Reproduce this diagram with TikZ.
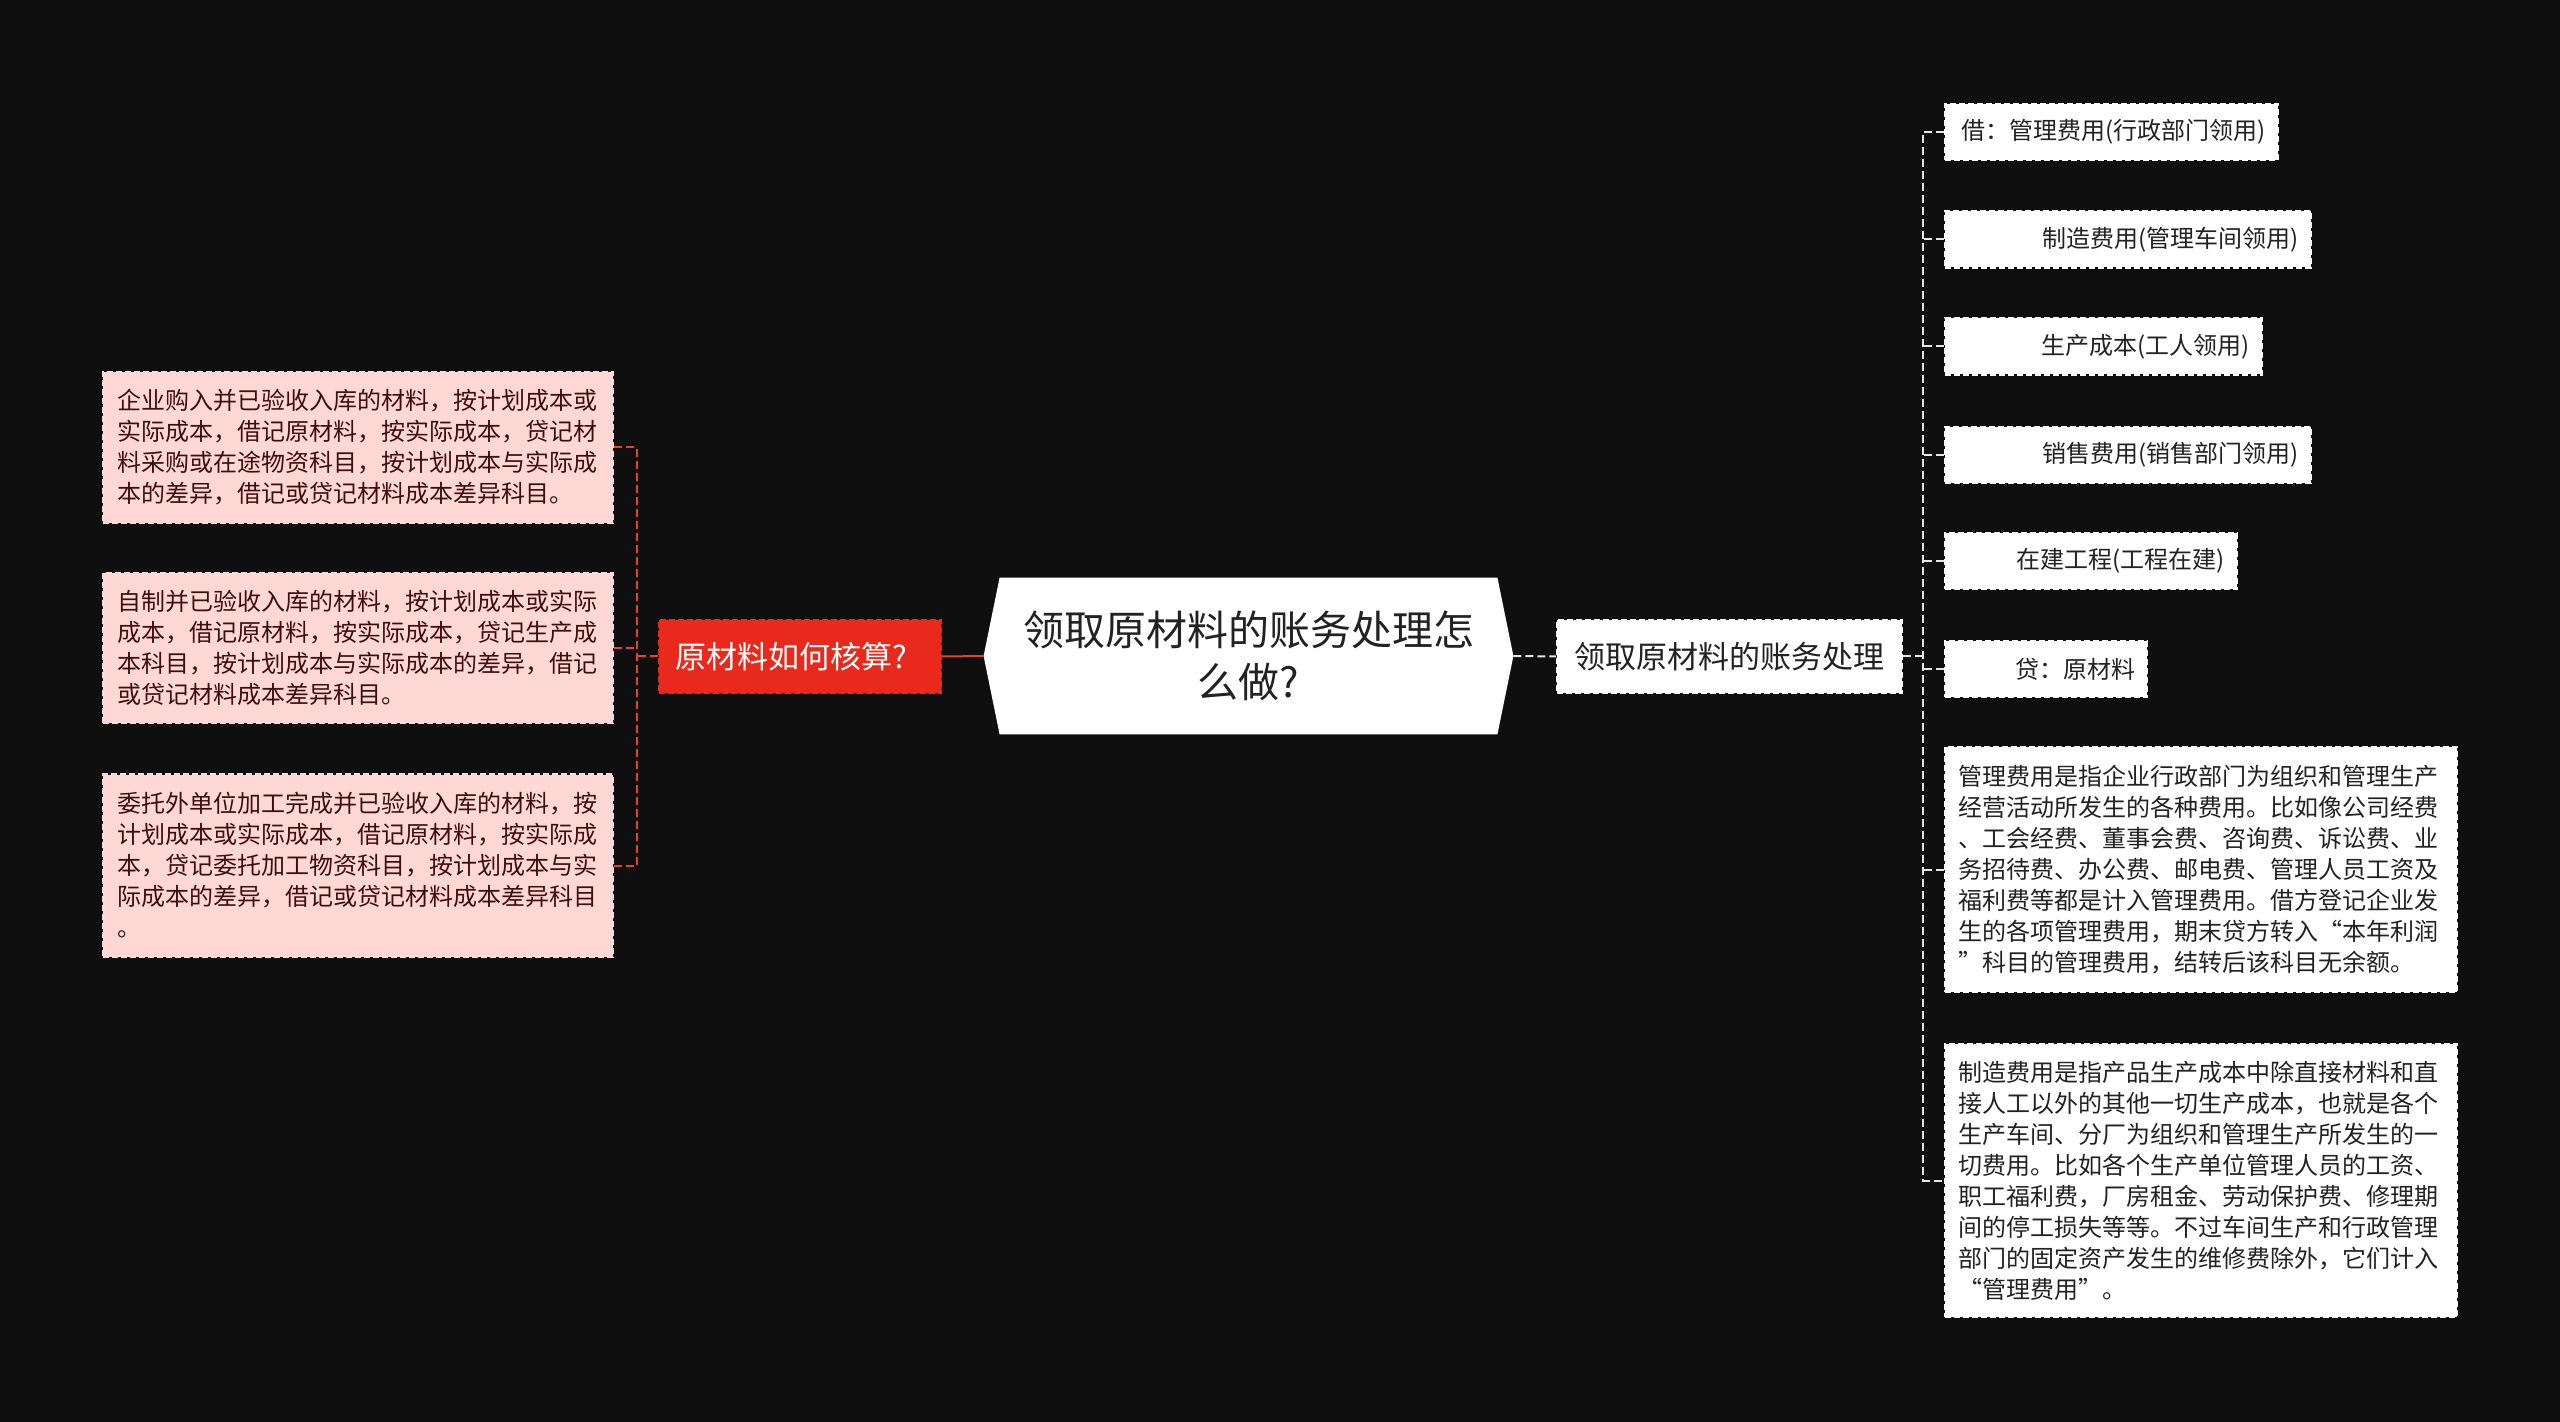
\documentclass[tikz,border=0pt]{standalone}
\usepackage{fontspec}
\setmainfont{Noto Sans CJK SC}
\usetikzlibrary{backgrounds}
\definecolor{bgc}{HTML}{0F0F0F}
\definecolor{redc}{HTML}{E8291C}
\definecolor{pinkc}{HTML}{FFD8D5}
\definecolor{pinktext}{HTML}{3E0E0E}
\definecolor{linkred}{HTML}{E8412F}
\definecolor{lightline}{HTML}{E6E6E6}
\definecolor{darktext}{HTML}{222222}
\begin{document}
\begin{tikzpicture}[x=0.5pt,y=-0.5pt,
  pinkbox/.style={draw=pinkc, dash pattern=on 3pt off 1.5pt, line width=1.2pt, fill=pinkc, text=pinktext,
    font=\fontsize{12}{15.5}\selectfont, align=left, inner xsep=7pt, inner ysep=0pt, text width=241pt},
  leaf/.style={draw=white, dash pattern=on 3pt off 1.5pt, line width=1.2pt, fill=white, text=darktext,
    font=\fontsize{12}{15.5}\selectfont, inner xsep=6pt, inner ysep=0pt, minimum height=28pt, align=right},
  longleaf/.style={leaf, align=left, text width=243pt, inner xsep=6.5pt},
  redlink/.style={draw=linkred, line width=1pt, dash pattern=on 4pt off 2pt},
  whitelink/.style={draw=lightline, line width=1pt, dash pattern=on 4pt off 2pt},
]
\useasboundingbox (0,0) rectangle (2560,1422);
\begin{pgfonlayer}{background}
  \fill[bgc] (0,0) rectangle (2560,1422);
\end{pgfonlayer}

% central node
\node[minimum width=264.5pt, minimum height=78pt, inner sep=0pt, align=center, text=darktext,
  font=\fontsize{20.5}{26}\selectfont] (c) at (1248.5,656) {领取原材料的账务处理怎\\么做?};
\begin{pgfonlayer}{background}
  \fill[white] (c.west) -- ([xshift=8pt]c.north west) -- ([xshift=-8pt]c.north east) -- (c.east)
    -- ([xshift=-8pt]c.south east) -- ([xshift=8pt]c.south west) -- cycle;
\end{pgfonlayer}

% left branch
\node[draw=redc, dash pattern=on 3pt off 1.5pt, line width=1.2pt, fill=redc, text=white,
  font=\fontsize{15.5}{19}\selectfont, align=left, inner xsep=8pt, inner ysep=0pt,
  text width=125pt, minimum height=36.5pt] (red) at (800,656.5) {原材料如何核算?};

\node[pinkbox, minimum height=75.5pt] (b1) at (358,447.5) {企业购入并已验收入库的材料，按计划成本或\\实际成本，借记原材料，按实际成本，贷记材\\料采购或在途物资科目，按计划成本与实际成\\本的差异，借记或贷记材料成本差异科目。};
\node[pinkbox, minimum height=75pt] (b2) at (358,648) {自制并已验收入库的材料，按计划成本或实际\\成本，借记原材料，按实际成本，贷记生产成\\本科目，按计划成本与实际成本的差异，借记\\或贷记材料成本差异科目。};
\node[pinkbox, minimum height=91pt] (b3) at (358,865.5) {委托外单位加工完成并已验收入库的材料，按\\计划成本或实际成本，借记原材料，按实际成\\本，贷记委托加工物资科目，按计划成本与实\\际成本的差异，借记或贷记材料成本差异科目\\。};

% right branch
\node[draw=white, dash pattern=on 3pt off 1.5pt, line width=1.2pt, fill=white, text=darktext,
  font=\fontsize{15.5}{19}\selectfont, minimum width=172.5pt, minimum height=36.5pt, inner sep=0pt]
  (rn) at (1729.5,656.5) {领取原材料的账务处理};

\node[leaf, text width=154.5pt] (r1) at (2111.5,132) {借：管理费用(行政部门领用)};
\node[leaf, text width=171pt] (r2) at (2128,239.5) {制造费用(管理车间领用)};
\node[leaf, text width=146.5pt] (r3) at (2103.5,346.5) {生产成本(工人领用)};
\node[leaf, text width=171pt] (r4) at (2128,455) {销售费用(销售部门领用)};
\node[leaf, text width=134pt] (r5) at (2091,561) {在建工程(工程在建)};
\node[leaf, text width=89pt] (r6) at (2046,669) {贷：原材料};
\node[longleaf, minimum height=122.5pt] (r7) at (2201,869.5) {管理费用是指企业行政部门为组织和管理生产\\经营活动所发生的各种费用。比如像公司经费\\、工会经费、董事会费、咨询费、诉讼费、业\\务招待费、办公费、邮电费、管理人员工资及\\福利费等都是计入管理费用。借方登记企业发\\生的各项管理费用，期末贷方转入“本年利润\\”科目的管理费用，结转后该科目无余额。};
\node[longleaf, minimum height=136.5pt] (r8) at (2201,1180.5) {制造费用是指产品生产成本中除直接材料和直\\接人工以外的其他一切生产成本，也就是各个\\生产车间、分厂为组织和管理生产所发生的一\\切费用。比如各个生产单位管理人员的工资、\\职工福利费，厂房租金、劳动保护费、修理期\\间的停工损失等等。不过车间生产和行政管理\\部门的固定资产发生的维修费除外，它们计入\\“管理费用”。};

% connectors
\coordinate (LT) at (637,656.5);
\coordinate (RT) at (1923,656.5);
\draw[draw=linkred, line width=1pt] (red.east) -- (c.west);
\draw[redlink] (red.west) -- (LT);
\draw[redlink] (b1.east) -- (b1.east -| LT) -- (b3.east -| LT) -- (b3.east);
\draw[redlink] (b2.east) -- (b2.east -| LT);

\draw[whitelink] (c.east) -- (rn.west);
\draw[whitelink] (rn.east) -- (RT);
\draw[whitelink] (r1.west) -- (r1.west -| RT) -- (r8.west -| RT) -- (r8.west);
\foreach \n in {r2,r3,r4,r5,r6,r7} {
  \draw[whitelink] (\n.west) -- (\n.west -| RT);
}
\end{tikzpicture}
\end{document}
